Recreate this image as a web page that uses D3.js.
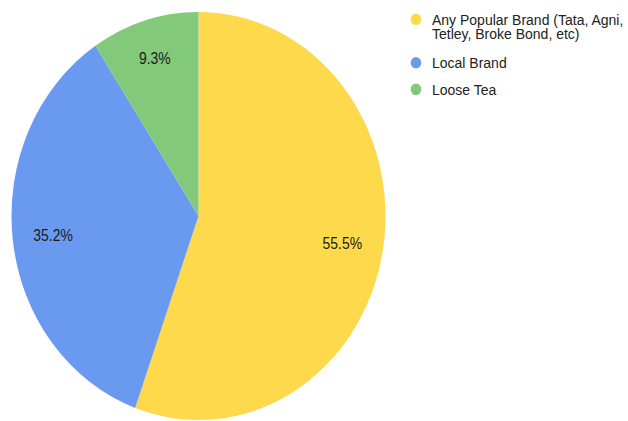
<!DOCTYPE html>
<html>
<head>
<meta charset="utf-8">
<script src="https://cdn.jsdelivr.net/npm/d3@7"></script>
<style>
  html, body { margin: 0; padding: 0; background: #fff; }
  svg { display: block; }
</style>
</head>
<body>
<svg id="chart" width="628" height="421"></svg>
<script>
// Tea brand preference shares (percent)
const categories = ["Any Popular Brand (Tata, Agni, Tetley, Broke Bond, etc)", "Local Brand", "Loose Tea"];
const legendLines = [["Any Popular Brand (Tata, Agni,", "Tetley, Broke Bond, etc)"], ["Local Brand"], ["Loose Tea"]];
const values = [55.5, 35.2, 9.3];
const colors = ["#FDD94B", "#6A9AF0", "#83C97A"];

const W = 628, H = 421;
const stretchY = 1.091;          // chart is drawn slightly taller than wide
const cx = 198.5, cy = 198, R = 187;
const labelScaleX = 0.93;

const svg = d3.select("#chart");
const root = svg.append("g").attr("transform", `scale(1, ${stretchY})`);

const pie = d3.pie().sort(null).value(d => d)(values);
const arc = d3.arc().innerRadius(0).outerRadius(R);

const g = root.append("g").attr("transform", `translate(${cx},${cy})`);

g.selectAll("path.slice")
  .data(pie)
  .join("path")
  .attr("class", "slice")
  .attr("d", arc)
  .attr("fill", (d, i) => colors[i]);

// Percentage labels: pushed outward until the text box sits a fixed
// distance inside the rim, measured along the slice's mid-angle.
const labels = g.selectAll("text.pct")
  .data(pie)
  .join("text")
  .attr("class", "pct")
  .attr("text-anchor", "middle")
  .attr("dominant-baseline", "central")
  .attr("font-family", "Liberation Sans, Arial, sans-serif")
  .attr("font-size", 15)
  .attr("fill", "#1a1a1a")
  .text(d => d.data.toFixed(1) + "%");

labels.each(function (d) {
  const a = (d.startAngle + d.endAngle) / 2;
  const hw = this.getComputedTextLength() * labelScaleX / 2;
  const hh = 12;
  const r = 167.5 - (hw * Math.abs(Math.sin(a)) + hh * Math.abs(Math.cos(a)));
  const x = r * Math.sin(a), y = -r * Math.cos(a);
  d3.select(this).attr("transform", `translate(${x},${y}) scale(${labelScaleX}, 1)`);
});

// Legend
const legendY = [17.7, 57.5, 81.9];
const legend = root.append("g");
legendLines.forEach((lines, i) => {
  legend.append("circle")
    .attr("cx", 416)
    .attr("cy", legendY[i])
    .attr("r", 5.3)
    .attr("fill", colors[i]);
  lines.forEach((ln, j) => {
    legend.append("text")
      .attr("x", 432)
      .attr("y", legendY[i] + 5 + j * 13.4)
      .attr("font-family", "Liberation Sans, Arial, sans-serif")
      .attr("font-size", 14)
      .attr("fill", "#222")
      .text(ln);
  });
});
</script>
</body>
</html>
